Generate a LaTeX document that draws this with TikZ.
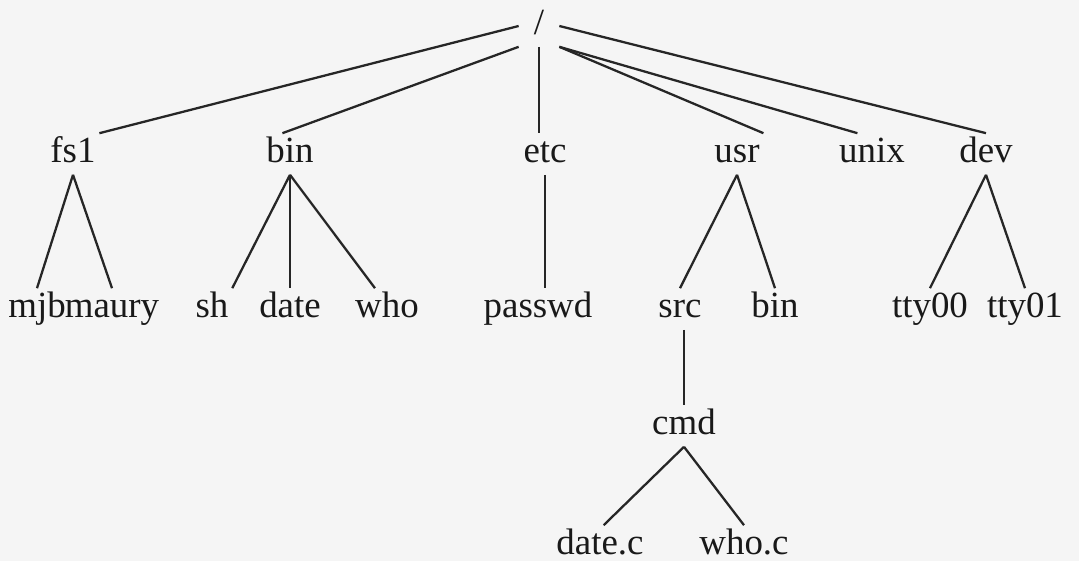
\documentclass[tikz,border=0pt]{standalone}
\usepackage{fontspec}
\setmainfont{Liberation Serif}
\usetikzlibrary{calc}

\begin{document}
\begin{tikzpicture}[x=0.02cm,y=-0.02cm,
	dir/.style={inner sep=2pt, text height=14.7pt, text depth=4.6pt, text=black!90,
		font=\fontsize{21}{25}\selectfont},
	branch/.style={line width=1.3pt, draw=black!85}]
	
	% page
	\fill[black!4] (0,0) rectangle (1079,561);
	\useasboundingbox (0,0) rectangle (1079,561);
	
	% root
	\node[dir, minimum width=0.8cm] (root) at (539,26) {/};
	
	% first level
	\node[dir] (fsone) at (73,154) {fs1};
	\node[dir] (bin) at (290,154) {bin};
	\node[dir] (etc) at (545,154) {etc};
	\node[dir] (usr) at (737,154) {usr};
	\node[dir] (unix) at (872,154) {unix};
	\node[dir] (dev) at (986,154) {dev};
	
	% second level
	\node[dir] (mjb) at (37,309) {mjb};
	\node[dir] (maury) at (112,309) {maury};
	\node[dir] (sh) at (212,309) {sh};
	\node[dir] (date) at (290,309) {date};
	\node[dir] (who) at (387,309) {who};
	\node[dir] (passwd) at (538,309) {passwd};
	\node[dir] (src) at (680,309) {src};
	\node[dir] (usrbin) at (775,309) {bin};
	\node[dir] (ttyzero) at (930,309) {tty00};
	\node[dir] (ttyone) at (1025,309) {tty01};
	
	% under src
	\node[dir] (cmd) at (684,426) {cmd};
	\node[dir] (datec) at (600,546) {date.c};
	\node[dir] (whoc) at (744,546) {who.c};
	
	% root to first level
	\draw[branch] (root.west) -- (fsone.north east);
	\draw[branch] (root.south west) -- (bin.110);
	\draw[branch] (root.south) -- (root.south |- etc.north);
	\draw[branch] (root.south east) -- (usr.north east);
	\draw[branch] (root.south east) -- (unix.125);
	\draw[branch] (root.east) -- (dev.north);
	
	% fs1
	\draw[branch] (fsone.south) -- (mjb.north);
	\draw[branch] (fsone.south) -- (maury.north);
	% bin
	\draw[branch] (bin.south) -- (sh.north east);
	\draw[branch] (bin.south) -- (date.north);
	\draw[branch] (bin.south) -- (who.120);
	% etc
	\draw[branch] (etc.south) -- (etc.south |- passwd.north);
	% usr
	\draw[branch] (usr.south) -- (src.north);
	\draw[branch] (usr.south) -- (usrbin.north);
	% dev
	\draw[branch] (dev.south) -- (ttyzero.north);
	\draw[branch] (dev.south) -- (ttyone.north);
	
	% src and cmd
	\draw[branch] (cmd.north |- src.south) -- (cmd.north);
	\draw[branch] (cmd.south) -- (datec.80);
	\draw[branch] (cmd.south) -- (whoc.north);
	
\end{tikzpicture}
\end{document}
